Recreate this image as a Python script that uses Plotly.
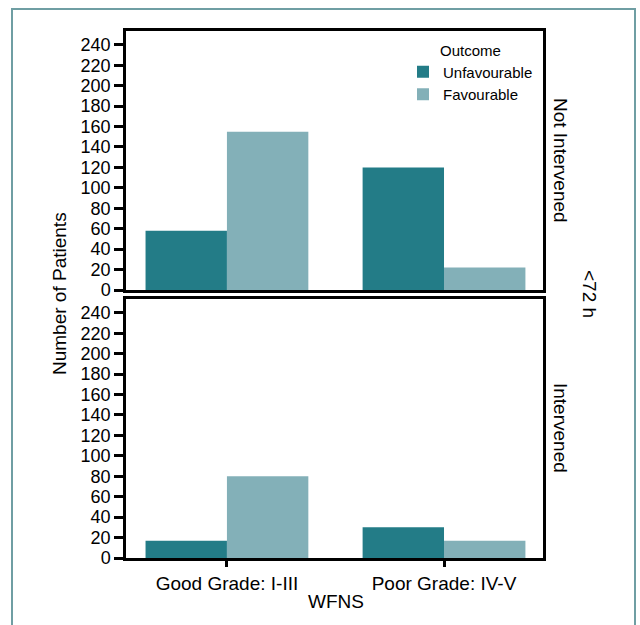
import plotly.graph_objects as go

categories = ["Good Grade: I-III", "Poor Grade: IV-V"]
not_intervened_unfav = [58, 120]
not_intervened_fav = [155, 22]
intervened_unfav = [17, 30]
intervened_fav = [80, 17]
y_ticks = list(range(0, 241, 20))

W, H = 640, 625
C_UNFAV = "#237c87"
C_FAV = "#83b0b8"
FONT = "Liberation Sans, Arial, sans-serif"

def px_x(x):
    return x / W

def px_y(y):
    return 1 - y / H

fig = go.Figure()
fig.add_trace(go.Bar(x=categories, y=not_intervened_unfav, name="Unfavourable",
                     marker=dict(color=C_UNFAV, line=dict(width=0)),
                     xaxis="x", yaxis="y", legendgroup="u"))
fig.add_trace(go.Bar(x=categories, y=not_intervened_fav, name="Favourable",
                     marker=dict(color=C_FAV, line=dict(width=0)),
                     xaxis="x", yaxis="y", legendgroup="f"))
fig.add_trace(go.Bar(x=categories, y=intervened_unfav, name="Unfavourable",
                     marker=dict(color=C_UNFAV, line=dict(width=0)),
                     xaxis="x2", yaxis="y2", legendgroup="u", showlegend=False))
fig.add_trace(go.Bar(x=categories, y=intervened_fav, name="Favourable",
                     marker=dict(color=C_FAV, line=dict(width=0)),
                     xaxis="x2", yaxis="y2", legendgroup="f", showlegend=False))

xrange = [-0.465, 1.456]
common_y = dict(range=[0, 253.5], tickvals=y_ticks, ticks="outside", ticklen=9,
                tickwidth=2.5, tickcolor="black", showline=True, linewidth=2.5,
                linecolor="black", mirror=True, showgrid=False, zeroline=False,
                automargin=False,
                tickfont=dict(size=18, color="black", family=FONT))

fig.update_layout(
    template="none",
    width=W, height=H,
    margin=dict(l=0, r=0, t=0, b=0, pad=0),
    paper_bgcolor="white", plot_bgcolor="white",
    font=dict(family=FONT, color="black"),
    barmode="group", bargap=0.25, bargroupgap=0,
    xaxis=dict(domain=[px_x(126), px_x(543)], anchor="y", type="category",
               range=xrange, showticklabels=False, ticks="",
               showline=True, linewidth=2.5, linecolor="black", mirror=True,
               showgrid=False, zeroline=False, automargin=False),
    yaxis=dict(domain=[px_y(290), px_y(31)], anchor="x", **common_y),
    xaxis2=dict(domain=[px_x(126), px_x(543)], anchor="y2", type="category",
                range=xrange, ticks="outside", ticklen=6, tickwidth=2.5,
                tickcolor="black", showline=True, linewidth=2.5,
                linecolor="black", mirror=True, showgrid=False, zeroline=False,
                automargin=False,
                tickfont=dict(size=19, color="black", family=FONT)),
    yaxis2=dict(domain=[px_y(558), px_y(299)], anchor="x2", **common_y),
    legend=dict(x=px_x(403), y=px_y(36), xanchor="left", yanchor="top",
                bgcolor="rgba(0,0,0,0)", font=dict(size=15, family=FONT),
                title=dict(text="Outcome", side="top center",
                           font=dict(size=15, family=FONT)),
                tracegroupgap=0, itemsizing="constant"),
    showlegend=True,
)

annotations = [
    dict(text="Number of Patients", x=px_x(60), y=px_y(294), textangle=-90,
         font=dict(size=19)),
    dict(text="WFNS", x=px_x(336), y=px_y(601), font=dict(size=19)),
    dict(text="Not Intervened", x=px_x(561), y=px_y(160), textangle=90,
         font=dict(size=19)),
    dict(text="Intervened", x=px_x(561), y=px_y(428), textangle=90,
         font=dict(size=19)),
    dict(text="<72 h", x=px_x(589), y=px_y(294), textangle=90,
         font=dict(size=19)),
]
for a in annotations:
    a.update(xref="paper", yref="paper", showarrow=False,
             xanchor="center", yanchor="middle")
fig.update_layout(annotations=annotations)

fig.add_shape(type="rect", xref="paper", yref="paper",
              x0=px_x(12), x1=px_x(635), y0=-0.1, y1=px_y(9),
              line=dict(color="#6f9ea3", width=2), fillcolor="rgba(0,0,0,0)",
              layer="below")

js = ("document.documentElement.style.margin='0';"
      "document.body.style.margin='0';"
      "document.body.style.overflow='hidden';")
fig.write_html("out.html", post_script=js,
               config={"displayModeBar": False})
